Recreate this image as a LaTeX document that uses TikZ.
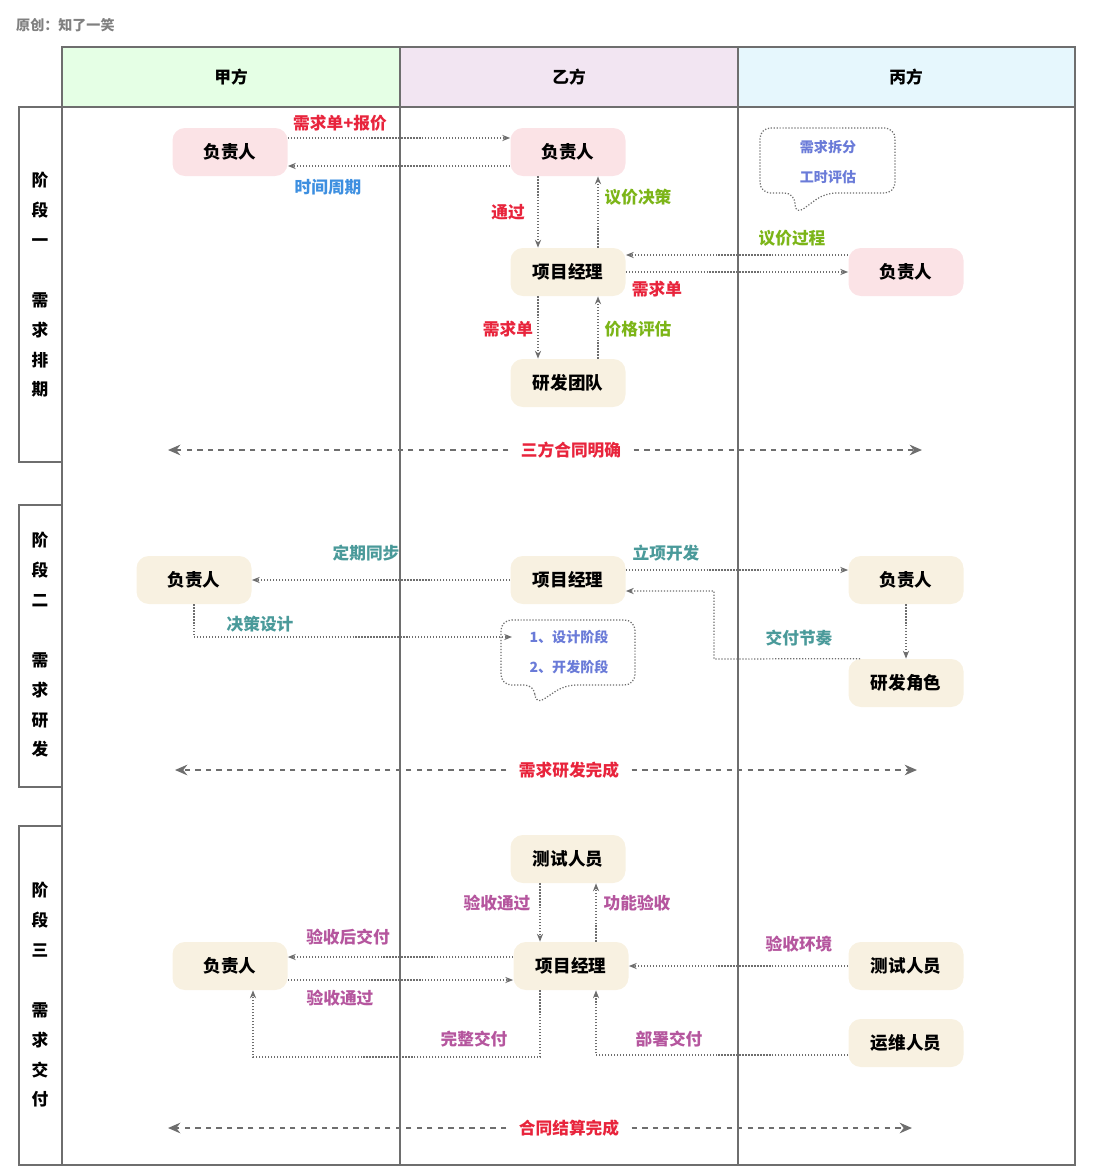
\documentclass[tikz,border=0pt]{standalone}
\usepackage{fontspec}
\setmainfont{Noto Sans CJK SC}
\usetikzlibrary{arrows.meta}
\definecolor{linegray}{HTML}{6E6E6E}
\definecolor{pinkfill}{HTML}{FBE3E6}
\definecolor{beigefill}{HTML}{F8F1E1}
\definecolor{redtxt}{HTML}{E8243C}
\definecolor{bluetxt}{HTML}{3D8FE0}
\definecolor{greentxt}{HTML}{7CB518}
\definecolor{tealtxt}{HTML}{4A9A9A}
\definecolor{purpletxt}{HTML}{B5569E}
\definecolor{notetxt}{HTML}{6A7BD8}
\tikzset{
  role/.style={rounded corners=7pt, minimum width=115*0.02cm, minimum height=48*0.02cm, inner sep=0pt, font=\fontsize{10}{12}\selectfont\bfseries},
  pinkbox/.style={role, fill=pinkfill},
  beigebox/.style={role, fill=beigefill},
  flow/.style={densely dotted, linegray, line width=0.7pt, -{Stealth[length=4.5pt,width=3.5pt]}},
  milestone/.style={dashed, linegray, line width=1.5pt, -{Stealth[length=7pt,width=6pt]}},
  lbl/.style={font=\fontsize{9.5}{11}\selectfont\bfseries, inner sep=1pt},
  stagetxt/.style={font=\fontsize{9.5}{17}\selectfont\bfseries, align=center},
  lane/.style={draw=linegray, line width=0.8pt},
}
\begin{document}
\begin{tikzpicture}[x=0.02cm, y=-0.02cm]
\useasboundingbox (0,0) rectangle (1098,1176);
% Titel
\node[anchor=west, text=gray, font=\fontsize{8}{10}\selectfont\bfseries] (title) at (10,25) {原创：知了一笑};
% Kopfzeile
\fill[green!10] (62,47) rectangle (400,107);
\fill[violet!10] (400,47) rectangle (738,107);
\fill[cyan!10] (738,47) rectangle (1075,107);
\node[font=\fontsize{9.5}{11}\selectfont\bfseries] (jia) at (231,77) {甲方};
\node[font=\fontsize{9.5}{11}\selectfont\bfseries] (yi) at (569,77) {乙方};
\node[font=\fontsize{9.5}{11}\selectfont\bfseries] (bing) at (906,77) {丙方};
\draw[lane] (62,47) rectangle (1075,1165);
\draw[lane] (62,107) -- (1075,107);
\foreach \x in {400,738} \draw[lane] (\x,47) -- (\x,1165);
% Phasen
\draw[lane] (19,107) rectangle (62,462);
\draw[lane] (19,505) rectangle (62,787);
\draw[lane] (19,826) rectangle (62,1165);
\node[stagetxt] (s1) at (40,285) {阶\\段\\一\\\\需\\求\\排\\期};
\node[stagetxt] (s2) at (40,645) {阶\\段\\二\\\\需\\求\\研\\发};
\node[stagetxt] (s3) at (40,995) {阶\\段\\三\\\\需\\求\\交\\付};

% Phase 1
\node[pinkbox] (a1) at (230,152) {负责人};
\node[pinkbox] (b1) at (568,152) {负责人};
\node[beigebox] (pm1) at (568,272) {项目经理};
\node[beigebox] (dev1) at (568,383) {研发团队};
\node[pinkbox] (c1) at (906,272) {负责人};
\draw[flow] (a1.east |- 0,138) -- (b1.west |- 0,138);
\draw[flow] (b1.west |- 0,166) -- (a1.east |- 0,166);
\draw[flow] (b1.south -| 538,0) -- (pm1.north -| 538,0);
\draw[flow] (pm1.north -| 598,0) -- (b1.south -| 598,0);
\draw[flow] (pm1.east |- 0,272) -- (c1.west |- 0,272);
\draw[flow] (c1.west |- 0,255) -- (pm1.east |- 0,255);
\draw[flow] (pm1.south -| 538,0) -- (dev1.north -| 538,0);
\draw[flow] (dev1.north -| 598,0) -- (pm1.south -| 598,0);
\node[lbl, text=redtxt] (l1) at (340,123) {需求单+报价};
\node[lbl, text=bluetxt] (l2) at (328,187) {时间周期};
\node[lbl, text=redtxt] (l3) at (508,212) {通过};
\node[lbl, text=greentxt] (l4) at (638,197) {议价决策};
\node[lbl, text=greentxt] (l5) at (792,238) {议价过程};
\node[lbl, text=redtxt] (l6) at (657,289) {需求单};
\node[lbl, text=redtxt] (l7) at (508,329) {需求单};
\node[lbl, text=greentxt] (l8) at (638,329) {价格评估};
\draw[densely dotted, linegray, line width=0.7pt, rounded corners=6pt] (760,128) -- (895,128) -- (895,193) -- (825,193) -- (795,215) -- (795,193) -- (760,193) -- cycle;
\node[lbl, text=notetxt, font=\fontsize{8}{10}\selectfont\bfseries] (n1) at (828,147) {需求拆分};
\node[lbl, text=notetxt, font=\fontsize{8}{10}\selectfont\bfseries] (n2) at (828,177) {工时评估};
\coordinate (m1l) at (168,450);
\coordinate (m1r) at (922,450);
\node[lbl, text=redtxt, inner sep=7pt] (m1) at (571,450) {三方合同明确};
\draw[milestone] (m1.west) -- (m1l);
\draw[milestone] (m1.east) -- (m1r);

% Phase 2
\node[beigebox] (a2) at (194,580) {负责人};
\node[beigebox] (pm2) at (568,580) {项目经理};
\node[beigebox] (c2) at (906,580) {负责人};
\node[beigebox] (dev2) at (906,683) {研发角色};
\draw[densely dotted, linegray, line width=0.7pt, rounded corners=6pt] (501,620) -- (635,620) -- (635,685) -- (565,685) -- (535,705) -- (535,685) -- (501,685) -- cycle;
\coordinate (note2) at (512,637);
\node[lbl, text=notetxt, font=\fontsize{8}{10}\selectfont\bfseries] (n3) at (569,637) {1、设计阶段};
\node[lbl, text=notetxt, font=\fontsize{8}{10}\selectfont\bfseries] (n4) at (569,667) {2、开发阶段};
\draw[flow] (pm2.west) -- (a2.east);
\draw[flow] (pm2.east |- 0,570) -- (c2.west |- 0,570);
\draw[flow] (c2.south) -- (dev2.north);
\draw[flow] (dev2.north -| 860,0) -- (714,659) -- (714,591) -- (pm2.east |- 0,591);
\draw[flow] (a2.south) -- (194,637) -- (note2);
\node[lbl, text=tealtxt] (l9) at (366,553) {定期同步};
\node[lbl, text=tealtxt] (l10) at (666,553) {立项开发};
\node[lbl, text=tealtxt] (l11) at (799,638) {交付节奏};
\node[lbl, text=tealtxt] (l12) at (260,624) {决策设计};
\coordinate (m2l) at (175,770);
\coordinate (m2r) at (917,770);
\node[lbl, text=redtxt, inner sep=7pt] (m2) at (569,770) {需求研发完成};
\draw[milestone] (m2.west) -- (m2l);
\draw[milestone] (m2.east) -- (m2r);

% Phase 3
\node[beigebox] (t3) at (568,859) {测试人员};
\node[beigebox] (pm3) at (571,966) {项目经理};
\node[beigebox] (a3) at (230,966) {负责人};
\node[beigebox] (c3) at (906,966) {测试人员};
\node[beigebox] (ops3) at (906,1043) {运维人员};
\draw[flow] (t3.south -| 540,0) -- (pm3.north -| 540,0);
\draw[flow] (pm3.north -| 596,0) -- (t3.south -| 596,0);
\draw[flow] (pm3.west |- 0,957) -- (a3.east |- 0,957);
\draw[flow] (a3.east |- 0,980) -- (pm3.west |- 0,980);
\draw[flow] (c3.west) -- (pm3.east);
\draw[flow] (pm3.south -| 540,0) -- (540,1057) -- (253,1057) -- (a3.south -| 253,0);
\draw[flow] (ops3.west |- 0,1055) -- (596,1055) -- (pm3.south -| 596,0);
\node[lbl, text=purpletxt] (l13) at (497,903) {验收通过};
\node[lbl, text=purpletxt] (l14) at (637,903) {功能验收};
\node[lbl, text=purpletxt] (l15) at (348,937) {验收后交付};
\node[lbl, text=purpletxt] (l16) at (340,998) {验收通过};
\node[lbl, text=purpletxt] (l17) at (799,944) {验收环境};
\node[lbl, text=purpletxt] (l18) at (474,1039) {完整交付};
\node[lbl, text=purpletxt] (l19) at (669,1039) {部署交付};
\coordinate (m3l) at (168,1128);
\coordinate (m3r) at (912,1128);
\node[lbl, text=redtxt, inner sep=7pt] (m3) at (569,1128) {合同结算完成};
\draw[milestone] (m3.west) -- (m3l);
\draw[milestone] (m3.east) -- (m3r);
\end{tikzpicture}
\end{document}
